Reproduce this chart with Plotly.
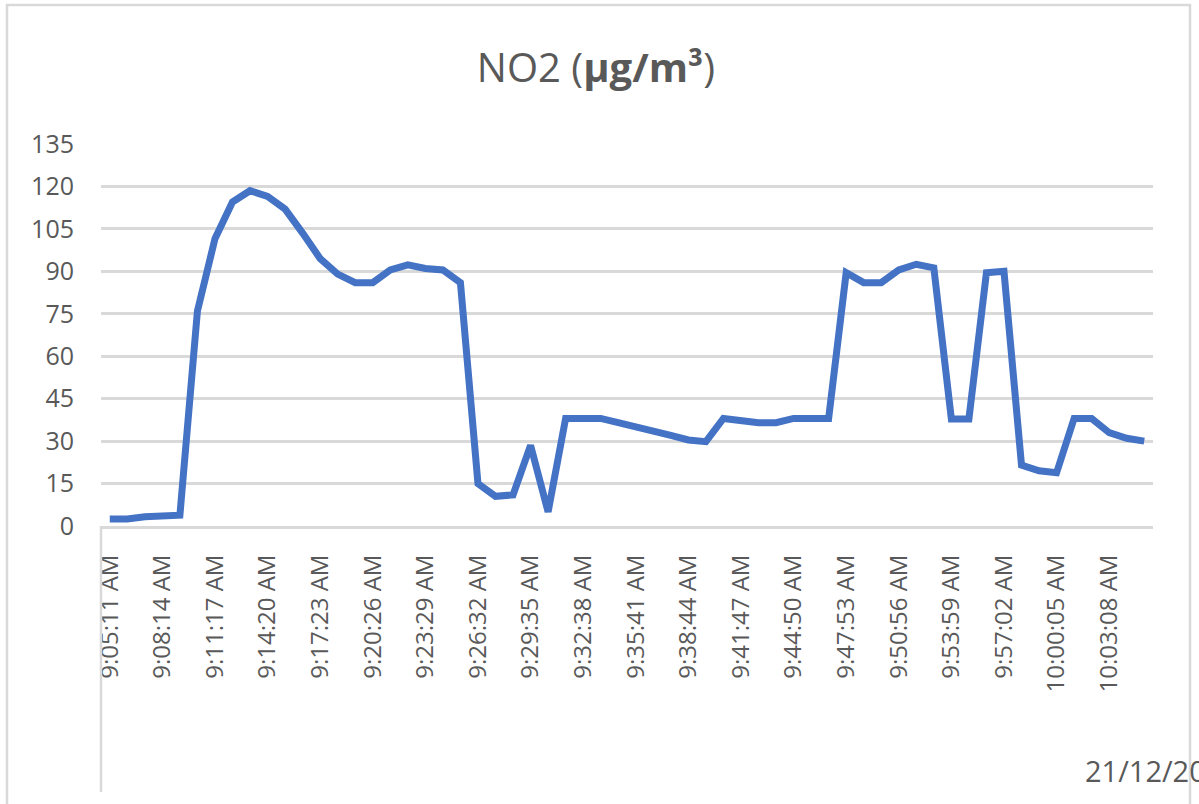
import plotly.graph_objects as go

times = [
    "9:05:11 AM", "9:06:12 AM", "9:07:13 AM", "9:08:14 AM", "9:09:15 AM", "9:10:16 AM",
    "9:11:17 AM", "9:12:18 AM", "9:13:19 AM", "9:14:20 AM", "9:15:21 AM", "9:16:22 AM",
    "9:17:23 AM", "9:18:24 AM", "9:19:25 AM", "9:20:26 AM", "9:21:27 AM", "9:22:28 AM",
    "9:23:29 AM", "9:24:30 AM", "9:25:31 AM", "9:26:32 AM", "9:27:33 AM", "9:28:34 AM",
    "9:29:35 AM", "9:30:36 AM", "9:31:37 AM", "9:32:38 AM", "9:33:39 AM", "9:34:40 AM",
    "9:35:41 AM", "9:36:42 AM", "9:37:43 AM", "9:38:44 AM", "9:39:45 AM", "9:40:46 AM",
    "9:41:47 AM", "9:42:48 AM", "9:43:49 AM", "9:44:50 AM", "9:45:51 AM", "9:46:52 AM",
    "9:47:53 AM", "9:48:54 AM", "9:49:55 AM", "9:50:56 AM", "9:51:57 AM", "9:52:58 AM",
    "9:53:59 AM", "9:55:00 AM", "9:56:01 AM", "9:57:02 AM", "9:58:03 AM", "9:59:04 AM",
    "10:00:05 AM", "10:01:06 AM", "10:02:07 AM", "10:03:08 AM", "10:04:09 AM", "10:05:10 AM",
]

no2 = [
    2.5, 2.5, 3.3, 3.3, 3.8, 76, 101.5, 114.5, 118.5, 116.5,
    112, 103.5, 94.5, 89, 86, 86, 90.5, 92.3, 91, 90.5,
    86, 15, 10.5, 11, 28.5, 5, 38, 38, 38, 36.5,
    34.8, 33.3, 32, 30.4, 29.8, 38, 37, 36.5, 36.5, 38,
    38, 38, 89.5, 86, 86, 90.5, 92.5, 91.2, 37.8, 37.8,
    89.5, 90, 21.5, 19.5, 18.8, 38, 38, 33, 31, 30,
]

tick_labels = times[::3]
y_ticks = [0, 15, 30, 45, 60, 75, 90, 105, 120, 135]
date_label = "21/12/20"

L, R, T, B = 101, 1153, 144, 526
W, H = 1199, 804
pw, ph = R - L, B - T


def px(x):
    return (x - L) / pw


def py(y):
    return (B - y) / ph


fig = go.Figure()
fig.add_trace(go.Scatter(
    x=times, y=no2, mode="lines",
    line=dict(color="#4472C4", width=7),
    hoverinfo="x+y", showlegend=False,
))

grey = "#595959"
fig.update_layout(
    width=W, height=H,
    margin=dict(l=L, r=W - R, t=T, b=H - B),
    paper_bgcolor="white", plot_bgcolor="white",
    font=dict(family="Open Sans", color=grey),
    title=dict(
        text="NO2 (<b>µg/m³</b>)",
        font=dict(size=40, color=grey, family="Open Sans"),
        x=0.497, xref="container", xanchor="center",
        y=1 - 68 / H, yref="container", yanchor="middle",
    ),
    xaxis=dict(
        type="category",
        categoryorder="array", categoryarray=times,
        range=[-0.5, len(times) - 0.5],
        tickmode="array", tickvals=tick_labels, ticktext=tick_labels,
        tickangle=-90,
        tickfont=dict(size=24, color=grey, family="Open Sans"),
        showgrid=False,
        showline=True, linecolor="#d9d9d9", linewidth=3,
        ticks="", ticklabelstandoff=16,
        fixedrange=True,
    ),
    yaxis=dict(
        range=[0, 135],
        tickmode="array", tickvals=y_ticks,
        tickfont=dict(size=25, color=grey, family="Open Sans"),
        showgrid=True, gridcolor="#d9d9d9", gridwidth=2.5,
        zeroline=False, showline=False,
        ticks="", ticklabelstandoff=26,
        fixedrange=True,
    ),
    shapes=[
        dict(type="rect", xref="paper", yref="paper",
             x0=px(7), x1=px(1190), y0=py(830), y1=py(5),
             line=dict(color="#d9d9d9", width=2.5), layer="above"),
        dict(type="line", xref="paper", yref="paper",
             x0=0, x1=0, y0=0, y1=py(792),
             line=dict(color="#d9d9d9", width=2.5), layer="above"),
    ],
    annotations=[
        dict(text=date_label, xref="paper", yref="paper",
             x=px(1083), y=py(770), xanchor="left", yanchor="middle",
             showarrow=False, font=dict(size=29, color=grey, family="Open Sans")),
    ],
)

fig.write_html("out.html", config={"displayModeBar": False})
